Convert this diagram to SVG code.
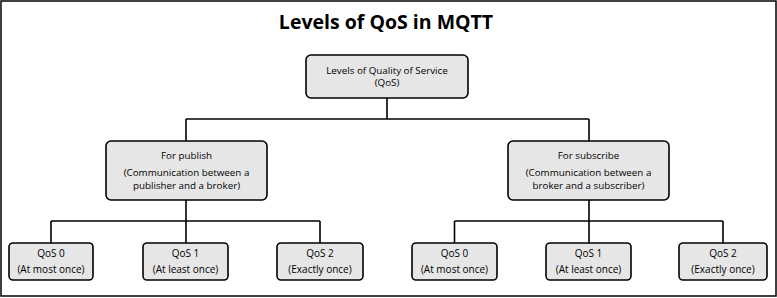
<svg xmlns="http://www.w3.org/2000/svg" width="777" height="298" viewBox="0 0 777 298">
<style>
.box{fill:#e6e6e6;stroke:#000;stroke-width:1.6}
.t{font-family:"Open Sans","Liberation Sans",sans-serif;font-size:9.8px;fill:#000;text-anchor:middle}
.lt{font-family:"Open Sans","Liberation Sans",sans-serif;font-size:10px;fill:#000;text-anchor:middle}
.c{fill:none;stroke:#000;stroke-width:1.6}
</style>
<rect x="1" y="1" width="775" height="295" fill="#fff" stroke="#000" stroke-width="1.5"/>
<text x="386" y="29" font-family="Open Sans, Liberation Sans, sans-serif" font-weight="bold" font-size="19.5" text-anchor="middle">Levels of QoS in MQTT</text>
<g id="connectors">
<path class="c" d="M387 98V119M186 119H589M186 119V141M589 119V141"/>
<path class="c" d="M186 200V221M51 221H320M51 221V243M186 221V243M320 221V243"/>
<path class="c" d="M589 200V221M454.5 221H723M454.5 221V243M589 221V243M723 221V243"/>
</g>
<g id="root"><rect class="box" x="306" y="55" width="162" height="43" rx="5"/>
<text class="t" x="387" y="74">Levels of Quality of Service</text><text class="t" x="387" y="86">(QoS)</text></g>
<g id="publish"><rect class="box" x="106" y="141" width="161" height="59" rx="5"/>
<text class="t" x="186.5" y="158.5">For publish</text><text class="t" x="186.5" y="176">(Communication between a</text><text class="t" x="186.5" y="189">publisher and a broker)</text></g>
<g id="subscribe"><rect class="box" x="508" y="141" width="161" height="59" rx="5"/>
<text class="t" x="588.5" y="158.5">For subscribe</text><text class="t" x="588.5" y="176">(Communication between a</text><text class="t" x="588.5" y="189">broker and a subscriber)</text></g>
<g id="p0"><rect class="box" x="9" y="243" width="84" height="37" rx="4"/>
<text class="lt" x="51" y="256.5">QoS 0</text><text class="lt" x="51" y="273">(At most once)</text></g>
<g id="p1"><rect class="box" x="143" y="243" width="85" height="37" rx="4"/>
<text class="lt" x="185.5" y="256.5">QoS 1</text><text class="lt" x="185.5" y="273">(At least once)</text></g>
<g id="p2"><rect class="box" x="277" y="243" width="86" height="37" rx="4"/>
<text class="lt" x="320" y="256.5">QoS 2</text><text class="lt" x="320" y="273">(Exactly once)</text></g>
<g id="s0"><rect class="box" x="412" y="243" width="85" height="37" rx="4"/>
<text class="lt" x="454.5" y="256.5">QoS 0</text><text class="lt" x="454.5" y="273">(At most once)</text></g>
<g id="s1"><rect class="box" x="546" y="243" width="85" height="37" rx="4"/>
<text class="lt" x="588.5" y="256.5">QoS 1</text><text class="lt" x="588.5" y="273">(At least once)</text></g>
<g id="s2"><rect class="box" x="679" y="243" width="88" height="37" rx="4"/>
<text class="lt" x="723" y="256.5">QoS 2</text><text class="lt" x="723" y="273">(Exactly once)</text></g>
</svg>
